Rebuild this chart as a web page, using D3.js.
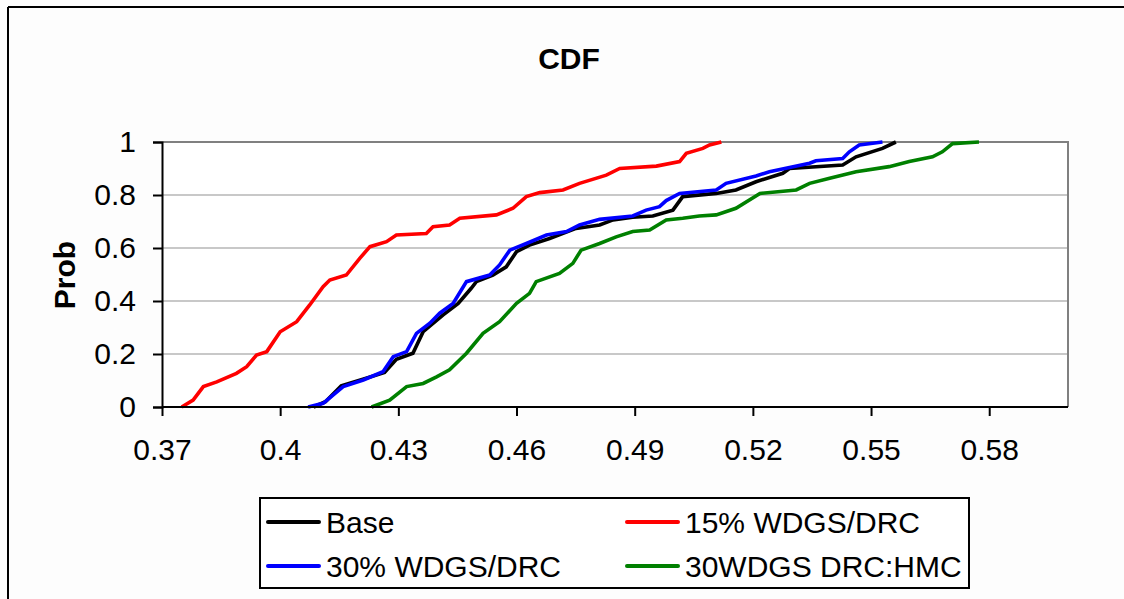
<!DOCTYPE html>
<html>
<head>
<meta charset="utf-8">
<script src="https://cdn.jsdelivr.net/npm/d3@7"></script>
<style>
  html, body { margin: 0; padding: 0; background: #fdfdfd; }
  svg { display: block; }
  text { font-family: "Liberation Sans", Arial, sans-serif; fill: #000; }
</style>
</head>
<body>
<script>
// ---- data ----
const xTicks = [0.37, 0.40, 0.43, 0.46, 0.49, 0.52, 0.55, 0.58];
const xTickLabels = ["0.37", "0.4", "0.43", "0.46", "0.49", "0.52", "0.55", "0.58"];
const yTicks = [0, 0.2, 0.4, 0.6, 0.8, 1];
const yTickLabels = ["0", "0.2", "0.4", "0.6", "0.8", "1"];

const seriesNames = ["Base", "15% WDGS/DRC", "30% WDGS/DRC", "30WDGS DRC:HMC"];
const seriesColors = ["#000000", "#ff0000", "#0000ff", "#008000"];

const baseX = [0.4085,0.4115,0.4155,0.421,0.4265,0.4295,0.4337,0.4363,0.4413,0.4452,0.4485,0.4498,0.454,0.4574,0.46,0.4633,0.4684,0.4751,0.4811,0.4845,0.4895,0.4946,0.4997,0.5022,0.5107,0.5157,0.5208,0.5276,0.5293,0.5428,0.5462,0.5529,0.5563];
const baseP = [0,0.02,0.08,0.105,0.13,0.18,0.203,0.284,0.347,0.391,0.448,0.473,0.498,0.529,0.586,0.611,0.636,0.674,0.687,0.706,0.716,0.721,0.743,0.794,0.806,0.819,0.85,0.882,0.9,0.913,0.944,0.976,1.0];

const w15X = [0.375,0.3779,0.3805,0.3839,0.3889,0.3915,0.394,0.3966,0.4,0.4042,0.4075,0.4109,0.4126,0.4168,0.4202,0.4228,0.427,0.4295,0.4371,0.4388,0.443,0.4456,0.4549,0.4591,0.4625,0.4659,0.4718,0.476,0.4828,0.4862,0.4955,0.5014,0.5031,0.5073,0.509,0.512];
const w15P = [0,0.026,0.077,0.095,0.127,0.152,0.196,0.209,0.284,0.322,0.385,0.454,0.479,0.498,0.561,0.605,0.624,0.649,0.655,0.68,0.687,0.712,0.725,0.75,0.794,0.809,0.819,0.844,0.875,0.9,0.909,0.926,0.957,0.976,0.989,1.0];

const w30X = [0.4071,0.4109,0.416,0.4211,0.4261,0.4287,0.4321,0.4346,0.438,0.4405,0.4439,0.4473,0.4532,0.4557,0.4583,0.4625,0.4676,0.4727,0.476,0.4811,0.4895,0.4929,0.4963,0.498,0.5014,0.5107,0.5132,0.5208,0.5242,0.5293,0.5344,0.536,0.5428,0.5445,0.547,0.5529];
const w30P = [0,0.014,0.077,0.102,0.133,0.19,0.209,0.278,0.316,0.354,0.391,0.473,0.498,0.536,0.592,0.617,0.649,0.662,0.687,0.708,0.721,0.743,0.756,0.779,0.806,0.819,0.844,0.872,0.888,0.904,0.92,0.929,0.938,0.963,0.989,1.0];

const hmcX = [0.4232,0.4278,0.4321,0.4363,0.4397,0.443,0.4473,0.4515,0.4557,0.46,0.4633,0.465,0.4709,0.4743,0.4764,0.4811,0.4853,0.4895,0.4938,0.498,0.5022,0.5064,0.5107,0.5157,0.5218,0.531,0.5344,0.5395,0.5462,0.5546,0.5597,0.5656,0.5681,0.5707,0.5774];
const hmcP = [0,0.026,0.077,0.089,0.114,0.14,0.203,0.278,0.322,0.391,0.429,0.473,0.504,0.542,0.592,0.617,0.642,0.662,0.668,0.706,0.712,0.721,0.725,0.75,0.806,0.819,0.844,0.863,0.888,0.907,0.926,0.944,0.963,0.994,1.0];

const seriesX = [baseX, w15X, w30X, hmcX];
const seriesP = [baseP, w15P, w30P, hmcP];

// ---- layout ----
const W = 1124, H = 599;
const plot = { left: 162, right: 1068, top: 142, bottom: 407 };

const svg = d3.select("body").append("svg").attr("width", W).attr("height", H);
svg.append("rect").attr("width", W).attr("height", H).attr("fill", "#fdfdfd");

// outer chart border (left & top visible)
svg.append("line").attr("x1", 8).attr("y1", 7).attr("x2", W).attr("y2", 7)
  .attr("stroke", "#000").attr("stroke-width", 2);
svg.append("line").attr("x1", 8).attr("y1", 7).attr("x2", 8).attr("y2", H)
  .attr("stroke", "#000").attr("stroke-width", 2);

const x = d3.scaleLinear().domain([0.37, 0.60]).range([plot.left, plot.right]);
const y = d3.scaleLinear().domain([0, 1]).range([plot.bottom, plot.top]);

// plot area background
svg.append("rect").attr("x", plot.left).attr("y", plot.top)
  .attr("width", plot.right - plot.left).attr("height", plot.bottom - plot.top)
  .attr("fill", "#ffffff");

// gridlines
svg.append("g").selectAll("line").data(yTicks.filter(d => d > 0 && d < 1)).join("line")
  .attr("x1", plot.left).attr("x2", plot.right)
  .attr("y1", d => y(d)).attr("y2", d => y(d))
  .attr("stroke", "#c8c8c8").attr("stroke-width", 2);

// plot border top & right (gray)
svg.append("path")
  .attr("d", `M${plot.left},${plot.top}H${plot.right}V${plot.bottom}`)
  .attr("fill", "none").attr("stroke", "#808080").attr("stroke-width", 2);

// series
const line = d3.line().x(d => x(d[0])).y(d => y(d[1]));
seriesNames.forEach((name, i) => {
  const pts = seriesX[i].map((v, j) => [v, seriesP[i][j]]);
  svg.append("path").datum(pts)
    .attr("d", line)
    .attr("fill", "none")
    .attr("stroke", seriesColors[i])
    .attr("stroke-width", 3.6)
    .attr("stroke-linejoin", "miter");
});

// y axis
const yAxis = d3.axisLeft(y).tickValues(yTicks)
  .tickFormat((d, i) => yTickLabels[i]).tickSize(9).tickPadding(17);
const gy = svg.append("g").attr("transform", `translate(${plot.left},0)`).call(yAxis);
gy.select(".domain").attr("stroke", "#000").attr("stroke-width", 2);
gy.selectAll(".tick line").attr("stroke", "#000").attr("stroke-width", 2);
gy.selectAll("text").attr("font-size", 30).attr("font-family", "'Liberation Sans', Arial, sans-serif");

// x axis
const xAxis = d3.axisBottom(x).tickValues(xTicks)
  .tickFormat((d, i) => xTickLabels[i]).tickSize(9).tickPadding(23);
const gx = svg.append("g").attr("transform", `translate(0,${plot.bottom})`).call(xAxis);
gx.select(".domain").attr("stroke", "#000").attr("stroke-width", 2).attr("d", `M${plot.left},0H${plot.right}`);
gx.selectAll(".tick line").attr("stroke", "#000").attr("stroke-width", 2);
gx.selectAll("text").attr("font-size", 30).attr("font-family", "'Liberation Sans', Arial, sans-serif");

// title
svg.append("text").attr("x", 569).attr("y", 69).attr("text-anchor", "middle")
  .attr("font-size", 30).attr("font-weight", "bold").text("CDF");

// y label
svg.append("text").attr("transform", "translate(75,275) rotate(-90)")
  .attr("text-anchor", "middle").attr("font-size", 30).attr("font-weight", "bold").text("Prob");

// legend
const lg = svg.append("g");
lg.append("rect").attr("x", 260).attr("y", 498).attr("width", 709).attr("height", 90)
  .attr("fill", "#ffffff").attr("stroke", "#000").attr("stroke-width", 2);
const legPos = [[268, 522], [627, 522], [268, 566], [627, 566]];
seriesNames.forEach((name, i) => {
  const [lx, ly] = legPos[i];
  lg.append("line").attr("x1", lx).attr("x2", lx + 51).attr("y1", ly).attr("y2", ly)
    .attr("stroke", seriesColors[i]).attr("stroke-width", 4).attr("stroke-linecap", "round");
  lg.append("text").attr("x", lx + 58).attr("y", ly + 11)
    .attr("font-size", 30).text(name);
});
</script>
</body>
</html>
